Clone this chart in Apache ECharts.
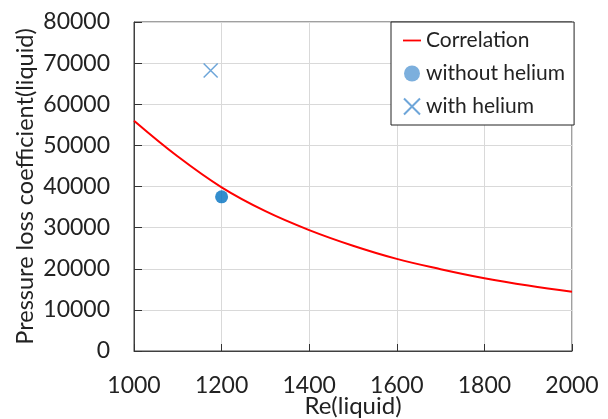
<!DOCTYPE html>
<html>
<head>
<meta charset="utf-8">
<script src="https://cdn.jsdelivr.net/npm/echarts@6/dist/echarts.min.js"></script>
<style>
  html, body { margin: 0; padding: 0; background: #fff; }
  #chart { width: 608px; height: 419px; }
</style>
</head>
<body>
<div id="chart"></div>
<script>
// Re(liquid) と圧損係数、値は図から読み取り
var re_corr = [1000, 1100, 1200, 1300, 1400, 1500, 1600, 1700, 1800, 1900, 2000];
var k_corr = [56000, 47300, 39800, 34000, 29400, 25600, 22400, 19900, 17700, 15900, 14400];
var re_without = [1200];
var k_without = [37500];
var re_with = [1175];
var k_with = [68200];

var font = 'Lato';
var txtColor = '#222';
var crossPath = 'path://M1,1L13,13M13,1L1,13';

function pairs(xs, ys) {
  var out = [];
  for (var i = 0; i < xs.length; i++) {
    out.push([xs[i], ys[i]]);
  }
  return out;
}

var chart = echarts.init(document.getElementById('chart'));
var option = {
  animation: false,
  backgroundColor: '#fff',
  grid: {
    left: 134, right: 36, top: 22, bottom: 68,
    show: true, borderColor: '#404040', borderWidth: 1,
    containLabel: false,
    outerBoundsMode: 'none'
  },
  legend: {
    orient: 'vertical',
    left: 391, top: 22,
    padding: [8, 9, 8, 12],
    itemGap: 12,
    itemWidth: 18, itemHeight: 16,
    backgroundColor: '#fff',
    borderColor: '#222', borderWidth: 1,
    textStyle: { fontFamily: font, fontSize: 21, color: txtColor },
    data: [
      { name: 'Correlation', icon: 'path://M0,7L20,7L20,9L0,9Z', itemStyle: { color: '#ff0000' } },
      { name: 'without helium', icon: 'circle', itemStyle: { color: '#5b9bd5' } },
      { name: 'with helium' }
    ]
  },
  xAxis: {
    type: 'value',
    min: 1000, max: 2000, interval: 200,
    name: 'Re(liquid)',
    nameLocation: 'middle',
    nameGap: 43,
    nameMoveOverlap: false,
    nameTextStyle: { fontFamily: font, fontSize: 24, color: txtColor, verticalAlign: 'top' },
    axisLine: { show: true, lineStyle: { color: '#404040' } },
    axisTick: { show: true, inside: true, length: 7, lineStyle: { color: '#333', width: 1 } },
    axisLabel: {
      fontFamily: font, fontSize: 23, color: txtColor, margin: 23,
      formatter: function (v) { return String(v); }
    },
    splitLine: { show: true, lineStyle: { color: '#d9d9d9', width: 1 } }
  },
  yAxis: {
    type: 'value',
    min: 0, max: 80000, interval: 10000,
    name: 'Pressure loss coefficient(liquid)',
    nameLocation: 'middle',
    nameGap: 97,
    nameMoveOverlap: false,
    nameTextStyle: { fontFamily: font, fontSize: 23.5, color: txtColor },
    axisLine: { show: true, lineStyle: { color: '#404040' } },
    axisTick: { show: true, inside: true, length: 8, lineStyle: { color: '#333', width: 1 } },
    axisLabel: {
      fontFamily: font, fontSize: 23, color: txtColor, margin: 24,
      formatter: function (v) { return String(v); }
    },
    splitLine: { show: true, lineStyle: { color: '#d9d9d9', width: 1 } }
  },
  series: [
    {
      name: 'Correlation',
      type: 'line',
      smooth: 0.4,
      showSymbol: false,
      lineStyle: { color: '#ff0000', width: 2 },
      itemStyle: { color: '#ff0000' },
      data: pairs(re_corr, k_corr),
      z: 2
    },
    {
      name: 'without helium',
      type: 'scatter',
      symbol: 'circle',
      symbolSize: 13,
      itemStyle: { color: '#0070c0' },
      data: pairs(re_without, k_without),
      z: 3
    },
    {
      name: 'with helium',
      type: 'scatter',
      symbol: crossPath,
      symbolSize: 14,
      itemStyle: { color: 'transparent', borderColor: '#4a90d0', borderWidth: 1.5 },
      data: pairs(re_with, k_with),
      z: 3
    }
  ]
};
chart.setOption(option);
</script>
</body>
</html>
